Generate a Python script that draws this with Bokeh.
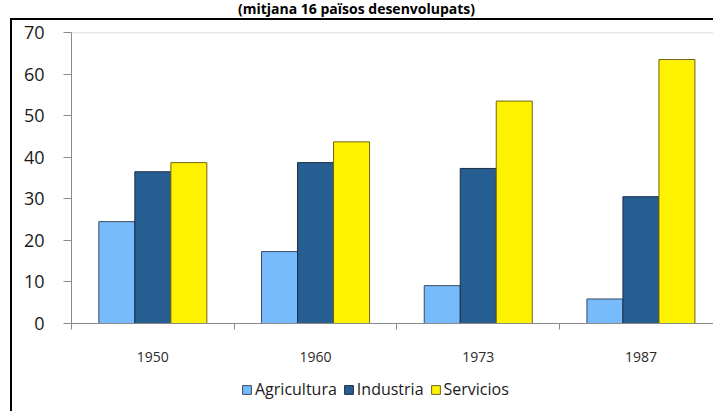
from bokeh.plotting import figure
from bokeh.layouts import column
from bokeh.models import (Range1d, FixedTicker, Span, Legend,
                          LegendItem, ColumnDataSource, Div)
from bokeh.transform import dodge
from bokeh.embed import file_html
from bokeh.resources import INLINE

# ---- data ----
title_text = "(mitjana 16 països desenvolupats)"
years = ["1950", "1960", "1973", "1987"]
agricultura = [24.5, 17.3, 9.1, 5.9]
industria = [36.5, 38.7, 37.3, 30.5]
servicios = [38.7, 43.7, 53.5, 63.5]
series_names = ["Agricultura", "Industria", "Servicios"]
y_ticks = [0, 10, 20, 30, 40, 50, 60, 70]

colors = ["#77bbfd", "#265e92", "#fff200"]
outlines = ["#3a4a60", "#1a2e45", "#6e6618"]

pos = list(range(1, len(years) + 1))
src = ColumnDataSource(dict(x=pos, Agricultura=agricultura,
                            Industria=industria, Servicios=servicios))

FONT = "Open Sans"
bw = 0.2213
offsets = [-bw, 0.0, bw]

# ---- title ----
title = Div(text=title_text, width=713, height=18, margin=0,
            styles={"text-align": "center", "font-weight": "bold",
                    "font-family": FONT, "font-size": "14px",
                    "line-height": "18px", "color": "#000000"})

# ---- main chart ----
p = figure(width=701, height=344, output_backend="svg", toolbar_location=None,
           x_range=Range1d(0.5, 4.446), y_range=Range1d(0, 70),
           min_border_left=59, min_border_right=0, min_border_top=12,
           min_border_bottom=40, margin=0)
p.outline_line_color = None
p.background_fill_color = "white"
p.border_fill_color = "white"
p.xgrid.visible = False
p.ygrid.visible = False

for name, off, c, oc in zip(series_names, offsets, colors, outlines):
    p.vbar(x=dodge("x", off, range=p.x_range), top=name, width=bw,
           source=src, fill_color=c, line_color=oc, line_width=1)

p.add_layout(Span(location=70, dimension="width", line_color="#cfcfcf",
                  line_width=1.5))

ya = p.yaxis[0]
ya.ticker = FixedTicker(ticks=y_ticks)
ya.axis_line_color = "#8a8a8a"
ya.major_tick_line_color = "#8a8a8a"
ya.major_tick_out = 8
ya.major_tick_in = 0
ya.minor_tick_line_color = None
ya.major_label_text_font = FONT
ya.major_label_text_font_size = "18px"
ya.major_label_text_color = "#1a1a1a"
ya.major_label_standoff = 19

xa = p.xaxis[0]
xa.ticker = FixedTicker(ticks=pos, minor_ticks=[i + 0.5 for i in range(len(years) + 1)])
xa.major_label_overrides = {i: y for i, y in zip(pos, years)}
xa.axis_line_color = "#8a8a8a"
xa.major_tick_line_color = None
xa.major_tick_out = 0
xa.major_tick_in = 0
xa.minor_tick_line_color = "#8a8a8a"
xa.minor_tick_out = 6
xa.minor_tick_in = 0
xa.major_label_text_font = FONT
xa.major_label_text_font_size = "14px"
xa.major_label_text_color = "#2a2a2a"
xa.major_label_standoff = 22

# ---- legend strip (same data, drawn out of its visible range) ----
lg = figure(width=701, height=47, output_backend="svg", toolbar_location=None,
            x_range=Range1d(-2, -1), y_range=Range1d(0, 1),
            min_border=0, margin=0)
lg.axis.visible = False
lg.grid.visible = False
lg.outline_line_color = None
lg.border_fill_color = "white"
leg_renderers = [lg.vbar(x=dodge("x", off, range=lg.x_range), top=name,
                         width=bw, source=src, fill_color=c, line_color=oc)
                 for name, off, c, oc in zip(series_names, offsets, colors, outlines)]
legend = Legend(items=[LegendItem(label=n, renderers=[r])
                       for n, r in zip(series_names, leg_renderers)],
                orientation="horizontal", location=(170, 11),
                border_line_alpha=0, background_fill_alpha=0,
                label_text_font=FONT, label_text_font_size="16px",
                label_text_color="#1a1a1a",
                glyph_width=11, glyph_height=11, label_standoff=3,
                spacing=6, padding=0, margin=0)
lg.add_layout(legend)

box = column(p, lg, spacing=0, margin=(0, 0, 0, 10),
             styles={"border-left": "2px solid black",
                     "border-top": "2px solid black"})
layout = column(title, box, spacing=0, margin=0)

open("out.html", "w").write(file_html(layout, INLINE))
